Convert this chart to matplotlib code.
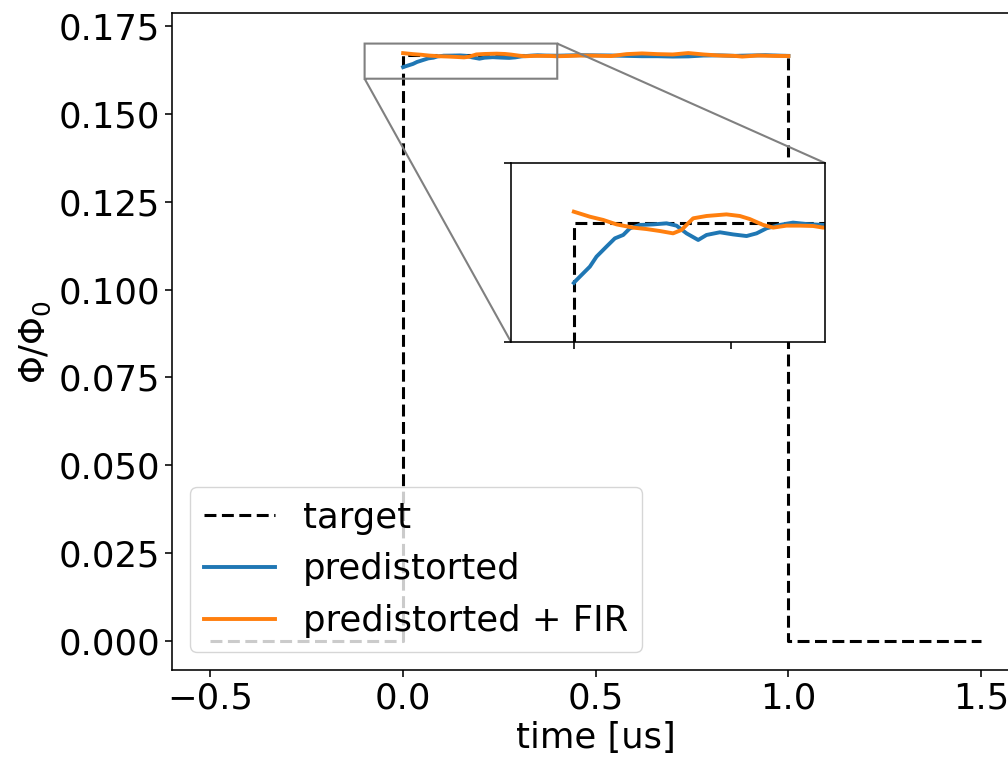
import numpy as np
import matplotlib.pyplot as plt

plt.rcParams['font.size'] = 25.5
plt.rcParams['axes.linewidth'] = 1.15
plt.rcParams['xtick.major.size'] = 5
plt.rcParams['ytick.major.size'] = 5
plt.rcParams['xtick.major.width'] = 1.15
plt.rcParams['ytick.major.width'] = 1.15

# target step pulse
target_t = [-0.5, 0.0, 0.0, 1.0, 1.0, 1.5]
target_phi = [0.0, 0.0, 1/6, 1/6, 0.0, 0.0]

# predistorted pulse
pred_t = [0.0, 0.0016, 0.0255, 0.0361, 0.052, 0.0653, 0.0786, 0.0892, 0.105, 0.1263,
          0.1476, 0.1635, 0.1794, 0.198, 0.2113, 0.2325, 0.2537, 0.275, 0.291, 0.3068,
          0.328, 0.349, 0.3705, 0.397, 0.42, 0.46, 0.50, 0.54, 0.58, 0.62, 0.66, 0.70,
          0.74, 0.78, 0.82, 0.86, 0.90, 0.94, 0.98, 1.0]
pred_phi = [0.1633, 0.16337, 0.16421, 0.16477, 0.16533, 0.16579, 0.16598, 0.16635, 0.16654,
            0.16657, 0.16663, 0.16650, 0.16607, 0.16570, 0.16598, 0.16613, 0.16601, 0.16592,
            0.16607, 0.16635, 0.16654, 0.16667, 0.16659, 0.16654, 0.16660, 0.16670, 0.16665,
            0.16660, 0.16650, 0.16640, 0.16640, 0.16630, 0.16635, 0.16660, 0.16665, 0.16650,
            0.16660, 0.16670, 0.16655, 0.16650]

# predistorted + FIR
fir_t = [0.0, 0.0255, 0.0467, 0.068, 0.0945, 0.1157, 0.137, 0.158, 0.1714, 0.19, 0.2113,
         0.243, 0.2643, 0.280, 0.3015, 0.3174, 0.3386, 0.36, 0.381, 0.397, 0.42, 0.46, 0.50,
         0.54, 0.58, 0.62, 0.66, 0.70, 0.74, 0.78, 0.82, 0.86, 0.88, 0.92, 0.96, 1.0]
fir_phi = [0.16728, 0.16700, 0.16682, 0.16657, 0.16639, 0.16631, 0.16620, 0.16607, 0.16626,
           0.16691, 0.16704, 0.16713, 0.16704, 0.16687, 0.16654, 0.16639, 0.16650, 0.16650,
           0.16648, 0.16639, 0.16645, 0.16660, 0.16655, 0.16645, 0.16700, 0.16720, 0.16700,
           0.16690, 0.16730, 0.16690, 0.16660, 0.16650, 0.16630, 0.16660, 0.16650, 0.16645]

dash = (3.9, 1.8)

fig = plt.figure(figsize=(10.08, 7.61), dpi=100)
ax = fig.add_axes([0.1706, 0.1196, 0.8409, 0.8633])

ax.plot(target_t, target_phi, 'k--', lw=2.2, dashes=dash, label='target')
ax.plot(pred_t, pred_phi, lw=2.8, label='predistorted')
ax.plot(fir_t, fir_phi, lw=2.8, label='predistorted + FIR')
ax.set_xlim(-0.6, 1.6)
ax.set_ylim(-0.0083, 0.1787)
ax.set_xlabel('time [us]')
ax.set_ylabel(r'$\Phi/\Phi_0$')
ax.legend(loc='lower left')

# zoomed inset around the rising edge
axins = fig.add_axes([0.507, 0.5506, 0.3115, 0.2352])
axins.plot(target_t, target_phi, 'k--', lw=2.2, dashes=dash)
axins.plot(pred_t, pred_phi, lw=2.8)
axins.plot(fir_t, fir_phi, lw=2.8)
axins.set_xlim(-0.1, 0.4)
axins.set_ylim(0.16, 0.17)
axins.set_xticks([0.0, 0.25])
axins.set_yticks([0.16, 0.17])
axins.set_xticklabels([])
axins.set_yticklabels([])
ax.indicate_inset_zoom(axins, edgecolor='0.5', alpha=1, linewidth=1.5)

fig.savefig('out.png', dpi=100)
